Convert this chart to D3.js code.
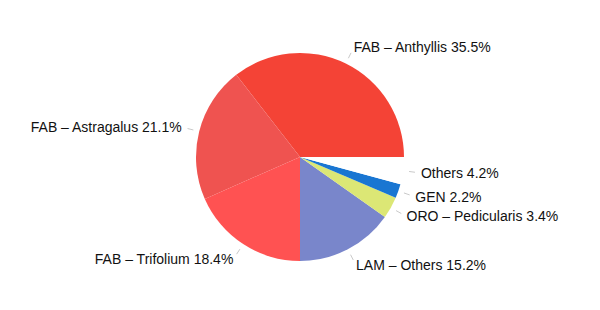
<!DOCTYPE html>
<html>
<head>
<meta charset="utf-8">
<script src="https://cdn.jsdelivr.net/npm/d3@7"></script>
<style>
  body { margin: 0; background: #fff; }
  text { font-family: "Liberation Sans", Arial, Helvetica, sans-serif; font-size: 14px; fill: #111; }
</style>
</head>
<body>
<svg id="chart"></svg>
<script>
// data
var labels = ["FAB – Anthyllis", "FAB – Astragalus", "FAB – Trifolium", "LAM – Others", "ORO – Pedicularis", "GEN", "Others"];
var shares = [35.5, 21.1, 18.4, 15.2, 3.4, 2.2, 4.2];
var colors = ["#f44336", "#ef5350", "#ff5252", "#7986cb", "#dce775", "#1976d2", "#ffffff"];

var width = 600, height = 310,
    cx = 300, cy = 157,
    radius = 104;

var svg = d3.select("#chart")
    .attr("width", width)
    .attr("height", height)
  .append("g")
    .attr("transform", "translate(" + cx + "," + cy + ")");

var data = labels.map((d, i) => ({label: d, value: shares[i], color: colors[i]}));

// slices start at 3 o'clock and run counter-clockwise
var pie = d3.pie()
    .sort(null)
    .value(d => d.value)
    .startAngle(Math.PI / 2)
    .endAngle(Math.PI / 2 - 2 * Math.PI);

var arc = d3.arc().innerRadius(0).outerRadius(radius);
var arcs = pie(data);

svg.selectAll("path.slice")
    .data(arcs)
  .enter().append("path")
    .attr("class", "slice")
    .attr("d", arc)
    .style("fill", d => d.data.color);

// d3 angle: 0 = 12 o'clock, clockwise
function pt(a, r) { return [Math.sin(a) * r, -Math.cos(a) * r]; }
function mid(d) { return (d.startAngle + d.endAngle) / 2; }

svg.selectAll("line.tick")
    .data(arcs)
  .enter().append("line")
    .attr("class", "tick")
    .attr("x1", d => pt(mid(d), 110)[0])
    .attr("y1", d => pt(mid(d), 110)[1])
    .attr("x2", d => pt(mid(d), 116)[0])
    .attr("y2", d => pt(mid(d), 116)[1])
    .style("stroke", "#bbb")
    .style("stroke-width", 0.8);

svg.selectAll("text.lbl")
    .data(arcs)
  .enter().append("text")
    .attr("class", "lbl")
    .attr("x", d => pt(mid(d), 122)[0])
    .attr("y", d => pt(mid(d), 122)[1])
    .attr("dy", "0.35em")
    .attr("text-anchor", d => Math.sin(mid(d)) >= 0 ? "start" : "end")
    .text(d => d.data.label + " " + d.data.value.toFixed(1) + "%");
</script>
</body>
</html>
